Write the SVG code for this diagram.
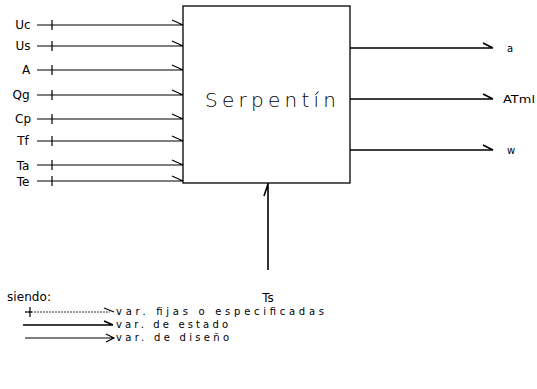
<svg xmlns="http://www.w3.org/2000/svg" width="537" height="389" viewBox="0 0 537 389">
  <style>
    .lbl { font-family: "DejaVu Sans", "Liberation Sans", sans-serif; font-size: 12px; fill: #000; }
    .leg { font-family: "DejaVu Sans", "Liberation Sans", sans-serif; font-size: 10px; fill: #000; }
    .sm { font-family: "DejaVu Sans", "Liberation Sans", sans-serif; font-size: 10px; fill: #000; }
    .title { font-family: "DejaVu Sans", "Liberation Sans", sans-serif; font-size: 20px; font-weight: 300; fill: #000; }
    .box { fill: #fff; stroke: #000; stroke-width: 1.3; }
    .in { stroke: #000; stroke-width: 1.2; fill: none; }
    .out { stroke: #000; stroke-width: 1.6; fill: none; }
    .thin { stroke: #000; stroke-width: 0.8; fill: none; stroke-dasharray: 2 1; }
  </style>

  <!-- process block -->
  <g id="serpentin">
    <rect class="box" x="183" y="6" width="167" height="177"/>
    <text class="title" x="205" y="107" textLength="131" lengthAdjust="spacing">Serpentín</text>
  </g>

  <!-- input labels -->
  <g id="inputs">
    <text class="lbl" x="23" y="29" text-anchor="middle">Uc</text>
    <text class="lbl" x="23" y="50" text-anchor="middle">Us</text>
    <text class="lbl" x="26" y="74" text-anchor="middle">A</text>
    <text class="lbl" x="21" y="99" text-anchor="middle">Qg</text>
    <text class="lbl" x="23" y="123" text-anchor="middle">Cp</text>
    <text class="lbl" x="23" y="145" text-anchor="middle">Tf</text>
    <text class="lbl" x="23" y="170" text-anchor="middle">Ta</text>
    <text class="lbl" x="23" y="186" text-anchor="middle">Te</text>
  </g>

  <!-- output labels -->
  <g id="outputs">
    <text class="sm" x="507" y="52">a</text>
    <text class="sm" x="503" y="103" textLength="32" lengthAdjust="spacingAndGlyphs">ATml</text>
    <text class="sm" x="507" y="154">w</text>
  </g>

  <g id="ts">
    <text class="lbl" x="268" y="302" text-anchor="middle">Ts</text>
  </g>

  <!-- connectors -->
  <g id="connectors">
    <!-- inputs: line, tick, half arrowhead -->
    <g class="in">
      <path d="M37 25H183M52 20V30M172 20L183 25"/>
      <path d="M37 46H183M52 41V51M172 41L183 46"/>
      <path d="M37 70H183M52 65V75M172 65L183 70"/>
      <path d="M37 95H183M52 90V100M172 90L183 95"/>
      <path d="M37 119H183M52 114V124M172 114L183 119"/>
      <path d="M37 141H183M52 136V146M172 136L183 141"/>
      <path d="M37 165H183M52 160V170M172 160L183 165"/>
      <path d="M37 181H183M52 176V186M172 176L183 181"/>
    </g>
    <!-- outputs -->
    <g class="out">
      <path d="M350 48H493M483 43L493 48"/>
      <path d="M350 99H493M483 94L493 99"/>
      <path d="M350 150H493M483 145L493 150"/>
    </g>
    <!-- Ts -->
    <g class="out">
      <path d="M268 270V183M264 196L268 184"/>
    </g>
  </g>

  <!-- legend -->
  <g id="legend">
    <text class="lbl" x="7" y="301" textLength="44" lengthAdjust="spacing">siendo:</text>
    <path class="thin" d="M25 312H110"/>
    <path class="in" d="M25 312H32M30 307V317M104 308L114 312"/>
    <text class="leg" x="116" y="315" textLength="208" lengthAdjust="spacing">var. fijas o especificadas</text>
    <path class="out" d="M23 325H113M104 321L113 325"/>
    <text class="leg" x="116" y="328" textLength="112" lengthAdjust="spacing">var. de estado</text>
    <path class="in" d="M25 338H114M106 334L114 338L106 342"/>
    <text class="leg" x="116" y="341" textLength="113" lengthAdjust="spacing">var. de diseño</text>
  </g>
</svg>
